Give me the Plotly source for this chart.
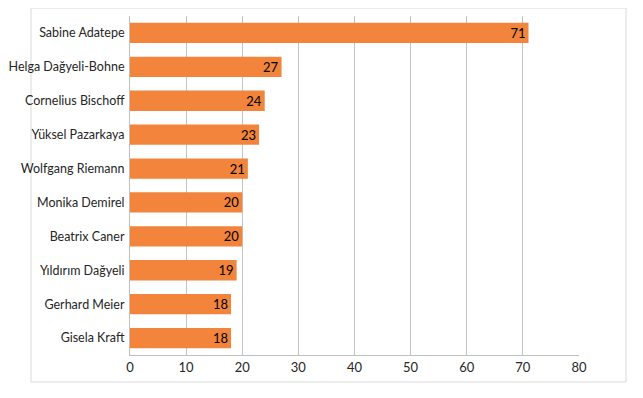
import plotly.graph_objects as go

names = ["Sabine Adatepe", "Helga Dağyeli-Bohne", "Cornelius Bischoff", "Yüksel Pazarkaya",
         "Wolfgang Riemann", "Monika Demirel", "Beatrix Caner", "Yıldırım Dağyeli",
         "Gerhard Meier", "Gisela Kraft"]
values = [71, 27, 24, 23, 21, 20, 20, 19, 18, 18]
x_ticks = [0, 10, 20, 30, 40, 50, 60, 70, 80]

FONT = "Lato"

fig = go.Figure(go.Bar(
    y=names, x=values, orientation="h",
    marker=dict(color="#F2843C", line=dict(width=0)),
    text=[str(v) for v in values],
    textposition="inside", insidetextanchor="end", textangle=0,
    constraintext="none",
    textfont=dict(family=FONT, size=13, color="#000000"),
    cliponaxis=False,
))

# page has an 8px body offset; plot area on page: x 130..579, y 16..355
fig.update_layout(
    width=643, height=398,
    margin=dict(l=122, r=72, t=8, b=51, autoexpand=False),
    paper_bgcolor="white", plot_bgcolor="white",
    bargap=0.4,
    showlegend=False,
    font=dict(family=FONT, size=12, color="#262626"),
    xaxis=dict(range=[0, 80], tickvals=x_ticks, ticktext=[str(t) for t in x_ticks],
               showgrid=True, gridcolor="#C4C4C4", gridwidth=1,
               zeroline=False, showline=True, linecolor="#BFBFBF", linewidth=1,
               ticks="", tickfont=dict(family=FONT, size=13, color="#262626"),
               fixedrange=True),
    yaxis=dict(categoryorder="array", categoryarray=names[::-1],
               showgrid=False, zeroline=False, showline=True, linecolor="#BFBFBF",
               linewidth=1, ticks="", ticklabelstandoff=2,
               tickfont=dict(family=FONT, size=12.5, color="#262626"),
               fixedrange=True),
    shapes=[dict(type="rect", xref="paper", yref="paper",
                 x0=(31 - 130) / 449, x1=(626 - 130) / 449,
                 y0=(355 - 382) / 339, y1=(355 - 8) / 339,
                 line=dict(color="#D9D9D9", width=1), layer="below")],
)

fig.write_html("out.html")
